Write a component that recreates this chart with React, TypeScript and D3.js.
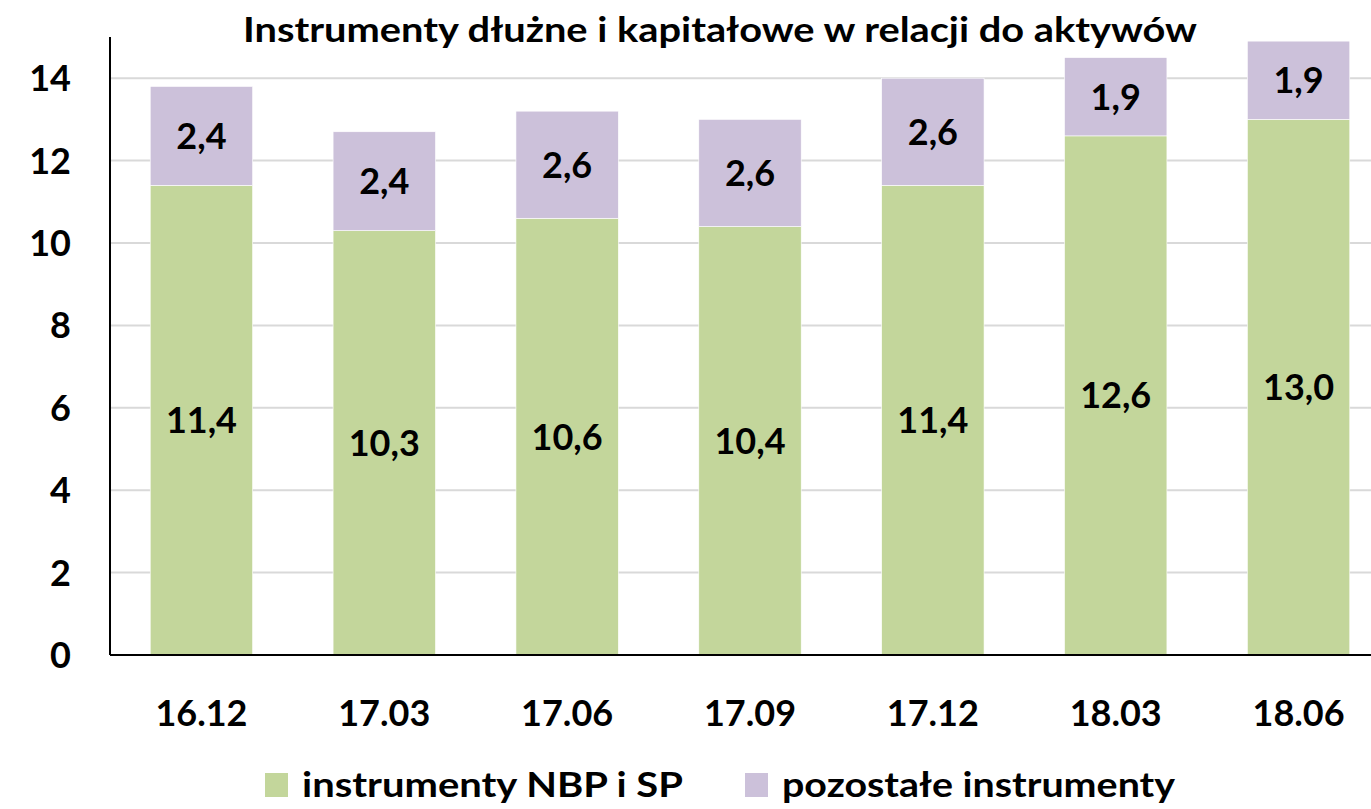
import * as d3 from "d3";

const categories = ["16.12", "17.03", "17.06", "17.09", "17.12", "18.03", "18.06"];
const nbpValues = [11.4, 10.3, 10.6, 10.4, 11.4, 12.6, 13.0];
const otherValues = [2.4, 2.4, 2.6, 2.6, 2.6, 1.9, 1.9];
const yTicks = [0, 2, 4, 6, 8, 10, 12, 14];
const seriesNames = ["instrumenty NBP i SP", "pozostałe instrumenty"];
const colors = ["#C3D69B", "#CCC1DA"];

const W = 1371;
const H = 809;
const font = "Lato, 'Open Sans', sans-serif";

const App = () => {
  const margin = { left: 110, top: 37, bottom: 655 };
  // the original chart is cut on the right, so the band range runs past the svg
  const x = d3.scaleBand<string>().domain(categories).range([110, 1390]).paddingInner(0.44).paddingOuter(0.22);
  const y = d3.scaleLinear().domain([0, 15]).range([margin.bottom, margin.top]);

  const rows = categories.map((c, i) => ({ c, nbp: nbpValues[i], other: otherValues[i] }));
  const stacked = d3.stack<any>().keys(["nbp", "other"])(rows);
  const fmt = (v: number) => v.toFixed(1).replace(".", ",");

  // legend placement: [square x, text x, text length]
  const legendPos = [
    [265, 302, 381],
    [745, 782, 393],
  ];

  return (
    <svg width={W} height={H} style={{ position: "absolute", left: 0, top: 0, background: "#fff" }} fontFamily={font} fontWeight="bold">
      <text x={243} y={42} fontSize={34} textLength={954} lengthAdjust="spacingAndGlyphs">
        Instrumenty dłużne i kapitałowe w relacji do aktywów
      </text>
      {yTicks.filter((t) => t > 0).map((t) => (
        <line key={t} x1={margin.left} x2={W} y1={y(t)} y2={y(t)} stroke="#D9D9D9" strokeWidth={2} />
      ))}
      {stacked.map((s, si) => (
        <g key={si}>
          {s.map((d, i) => (
            <g key={i}>
              <rect
                x={x(categories[i])}
                width={x.bandwidth()}
                y={y(d[1])}
                height={y(d[0]) - y(d[1])}
                fill={colors[si]}
                stroke="#fff"
                strokeWidth={0.6}
              />
              <text
                x={(x(categories[i]) as number) + x.bandwidth() / 2}
                y={y((d[0] + d[1]) / 2)}
                dy="0.36em"
                textAnchor="middle"
                fontSize={36}
              >
                {fmt(si === 0 ? nbpValues[i] : otherValues[i])}
              </text>
            </g>
          ))}
        </g>
      ))}
      <line x1={margin.left} x2={margin.left} y1={margin.top} y2={margin.bottom} stroke="#000" strokeWidth={2} />
      <line x1={margin.left} x2={W} y1={margin.bottom} y2={margin.bottom} stroke="#000" strokeWidth={2} />
      {yTicks.map((t) => (
        <text key={t} x={71} y={y(t)} dy="0.36em" textAnchor="end" fontSize={36}>
          {t}
        </text>
      ))}
      {categories.map((c) => (
        <text key={c} x={(x(c) as number) + x.bandwidth() / 2} y={726} textAnchor="middle" fontSize={36}>
          {c}
        </text>
      ))}
      {seriesNames.map((n, i) => {
        const [sx, tx, tl] = legendPos[i];
        return (
          <g key={n}>
            <rect x={sx} y={773} width={23} height={24} fill={colors[i]} />
            <text x={tx} y={797} fontSize={35} textLength={tl} lengthAdjust="spacingAndGlyphs">
              {n}
            </text>
          </g>
        );
      })}
    </svg>
  );
};

export default App;
